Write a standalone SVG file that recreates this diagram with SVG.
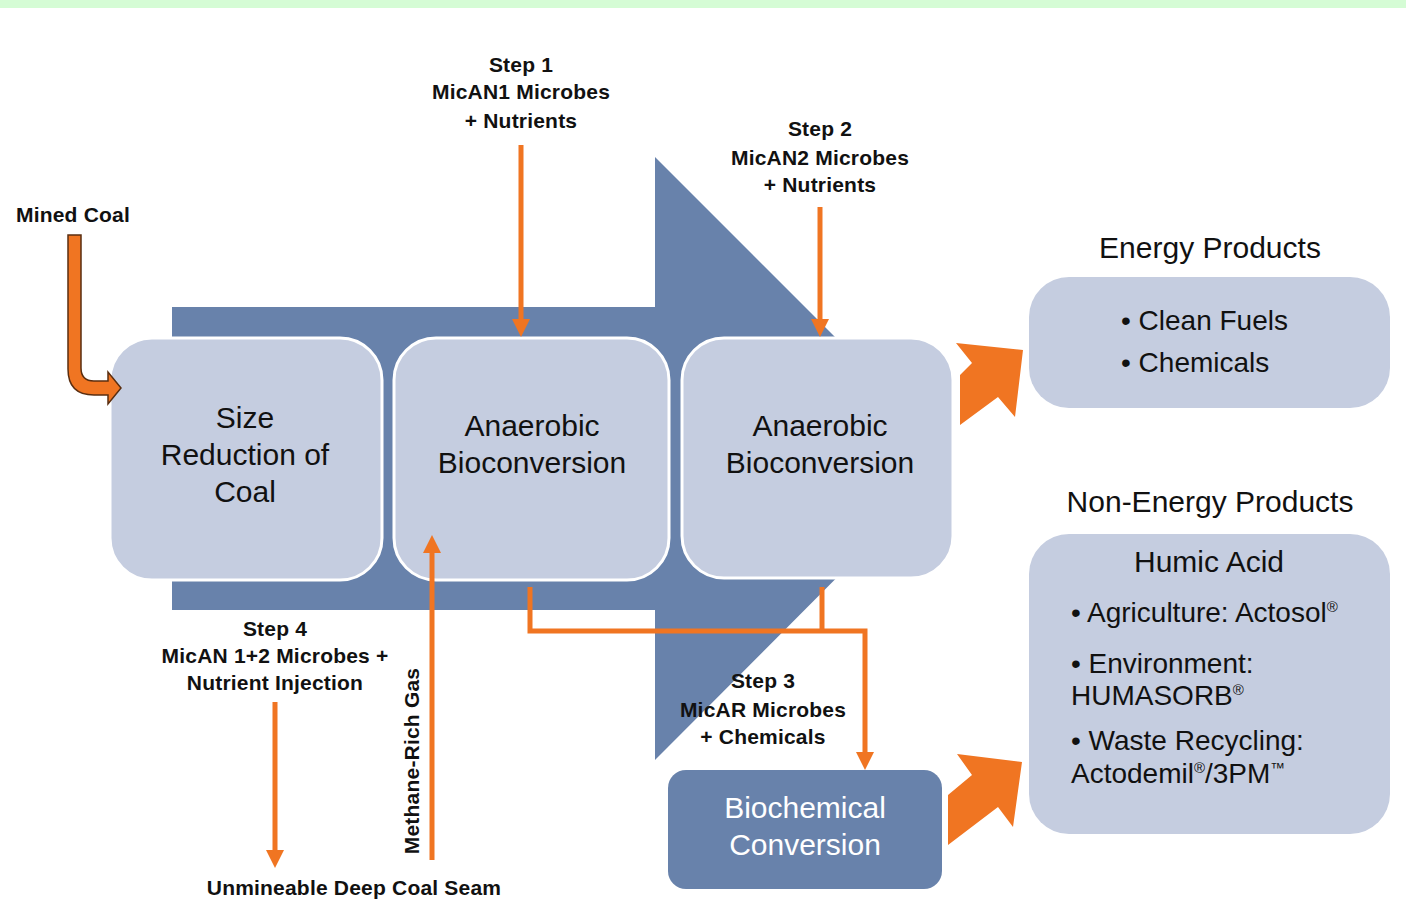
<svg xmlns="http://www.w3.org/2000/svg" width="1406" height="906" viewBox="0 0 1406 906">
<defs>
<style>
.lbl{font-family:"Liberation Sans",Arial,sans-serif;font-weight:bold;font-size:21px;fill:#111;text-anchor:middle;letter-spacing:0.2px}
.bx{fill:#c5cde0;stroke:#fff;stroke-width:3}
.bt{font-family:"Liberation Sans",Arial,sans-serif;font-size:30px;fill:#111;text-anchor:middle}
.pt{font-family:"Liberation Sans",Arial,sans-serif;font-size:28px;fill:#111}
.con{fill:none;stroke:#f07522;stroke-width:5}
.blk{fill:#f07522}
.sup{font-size:15px}
</style>
<marker id="ah" markerUnits="userSpaceOnUse" markerWidth="18" markerHeight="18" refX="4" refY="9" orient="auto">
<path d="M0,0 L18,9 L0,18 Z" fill="#f07522"/>
</marker>
</defs>
<rect x="0" y="0" width="1406" height="906" fill="#fff"/>
<rect x="0" y="0" width="1406" height="8" fill="#d5fcd5"/>

<g id="flow-arrow">
<polygon points="172,307 655,307 655,157 948,450 948,466 655,760 655,610 172,610" fill="#6882ab"/>
</g>

<g id="node-size-reduction">
<rect class="bx" x="110" y="338" width="272" height="242" rx="42"/>
<text class="bt" x="245" y="428">Size</text>
<text class="bt" x="245" y="465">Reduction of</text>
<text class="bt" x="245" y="502">Coal</text>
</g>
<g id="node-anaerobic-1">
<rect class="bx" x="394" y="338" width="275" height="242" rx="42"/>
<text class="bt" x="532" y="436">Anaerobic</text>
<text class="bt" x="532" y="473">Bioconversion</text>
</g>
<g id="node-anaerobic-2">
<rect class="bx" x="682" y="338" width="271" height="240" rx="42"/>
<text class="bt" x="820" y="436">Anaerobic</text>
<text class="bt" x="820" y="473">Bioconversion</text>
</g>
<g id="node-biochemical">
<rect x="668" y="770" width="274" height="119" rx="18" fill="#6882ab"/>
<text class="bt" x="805" y="818" style="fill:#fff">Biochemical</text>
<text class="bt" x="805" y="855" style="fill:#fff">Conversion</text>
</g>
<g id="node-energy">
<text class="bt" x="1210" y="258">Energy Products</text>
<rect x="1029" y="277" width="361" height="131" rx="40" fill="#c5cde0"/>
<text class="pt" x="1121" y="330">• Clean Fuels</text>
<text class="pt" x="1121" y="372">• Chemicals</text>
</g>
<g id="node-non-energy">
<text class="bt" x="1210" y="512">Non-Energy Products</text>
<rect x="1029" y="534" width="361" height="300" rx="40" fill="#c5cde0"/>
<text class="bt" x="1209" y="572">Humic Acid</text>
<text class="pt" x="1071" y="622">• Agriculture: Actosol<tspan class="sup" dy="-10">®</tspan></text>
<text class="pt" x="1071" y="673">• Environment:</text>
<text class="pt" x="1071" y="705">HUMASORB<tspan class="sup" dy="-10">®</tspan></text>
<text class="pt" x="1071" y="750">• Waste Recycling:</text>
<text class="pt" x="1071" y="783">Actodemil<tspan class="sup" dy="-10">®</tspan><tspan dy="10">/3PM</tspan><tspan class="sup" dy="-10">™</tspan></text>
</g>

<g id="labels">
<text class="lbl" x="521" y="72">Step 1</text>
<text class="lbl" x="521" y="99">MicAN1 Microbes</text>
<text class="lbl" x="521" y="128">+ Nutrients</text>
<text class="lbl" x="820" y="136">Step 2</text>
<text class="lbl" x="820" y="165">MicAN2 Microbes</text>
<text class="lbl" x="820" y="192">+ Nutrients</text>
<text class="lbl" x="73" y="222">Mined Coal</text>
<text class="lbl" x="275" y="636">Step 4</text>
<text class="lbl" x="275" y="663">MicAN 1+2 Microbes +</text>
<text class="lbl" x="275" y="690">Nutrient Injection</text>
<text class="lbl" x="763" y="688">Step 3</text>
<text class="lbl" x="763" y="717">MicAR Microbes</text>
<text class="lbl" x="763" y="744">+ Chemicals</text>
<text class="lbl" x="354" y="895">Unmineable Deep Coal Seam</text>
<text class="lbl" transform="translate(419,761) rotate(-90)">Methane-Rich Gas</text>
</g>

<g id="connectors">
<path d="M68,235 H81 V368 Q81,381 94,381 H108 V372 L121,388 L108,404 V395 H94 Q68,395 68,369 Z" fill="#f07522" stroke="#5a2e10" stroke-width="1.5"/>
<line class="con" x1="521" y1="145" x2="521" y2="323" marker-end="url(#ah)"/>
<line class="con" x1="820" y1="207" x2="820" y2="323" marker-end="url(#ah)"/>
<line class="con" x1="275" y1="702" x2="275" y2="854" marker-end="url(#ah)"/>
<line class="con" x1="432" y1="860" x2="432" y2="549" marker-end="url(#ah)"/>
<path class="con" d="M530,587 V631 H865 V756" marker-end="url(#ah)"/>
<path class="con" d="M822,587 V631"/>
<polygon class="blk" points="1023,350 956,343 972,363 960,375 960,425 998,397 1015,417"/>
<polygon class="blk" points="1022,762 957,754 972,775 948,795 948,845 998,807 1013,827"/>
</g>
</svg>
